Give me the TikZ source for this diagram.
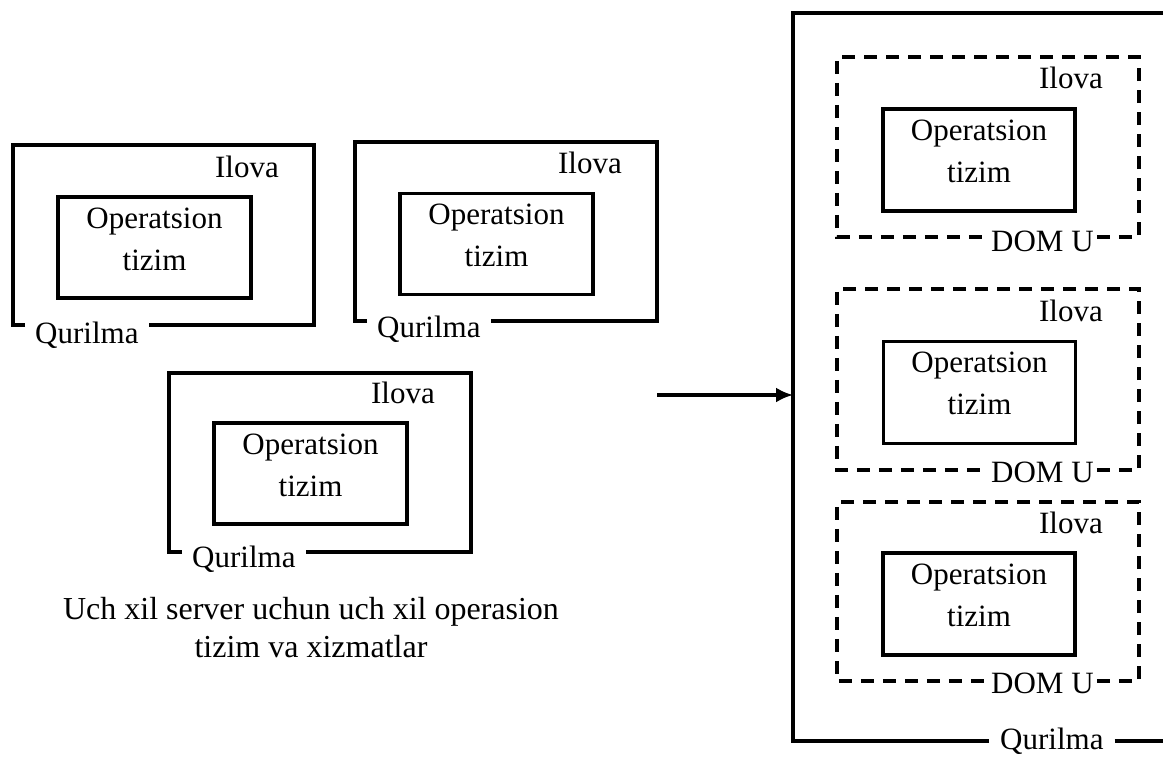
\documentclass[tikz,border=0pt]{standalone}
\usepackage{fontspec}
\setmainfont{Liberation Serif}
\usetikzlibrary{arrows.meta,positioning}

\tikzset{
  frame/.style={line width=3.2pt, line join=miter},
  domframe/.style={frame, dash pattern=on 13pt off 9pt},
  osbox/.style={draw, line width=3.2pt, minimum width=193pt, minimum height=101pt, inner sep=0pt},
  lbl/.style={font=\fontsize{31}{42}\selectfont, inner sep=0pt},
  gaplbl/.style={lbl, inner xsep=10pt},
  domlbl/.style={lbl, inner xsep=3pt}
}

\begin{document}
\begin{tikzpicture}[x=1pt, y=-1pt]
  \useasboundingbox (0,0) rectangle (1163,756);
  \clip (0,0) rectangle (1163,756);

  % three separate servers
  \coordinate (s1nw) at (13,145);
  \coordinate (s1se) at (314,325);
  \node[gaplbl, anchor=base west] (q1) at (25,343) {Qurilma};
  \draw[frame] (q1.west |- s1se) -| (s1nw) -| (s1se) -- (q1.east |- s1se);
  \node[lbl, anchor=base east] (i1) at (279,177) {Ilova};
  \node[osbox] (os1) at (154.5,247.5) {};
  \node[lbl, align=center, below=12pt of os1.north] (t1) {Operatsion\\tizim};

  \coordinate (s2nw) at (355,142);
  \coordinate (s2se) at (657,321);
  \node[gaplbl, anchor=base west] (q2) at (367,337) {Qurilma};
  \draw[frame] (q2.west |- s2se) -| (s2nw) -| (s2se) -- (q2.east |- s2se);
  \node[lbl, anchor=base east] (i2) at (622,173) {Ilova};
  \node[osbox] (os2) at (496.5,244) {};
  \node[lbl, align=center, below=12pt of os2.north] (t2) {Operatsion\\tizim};

  \coordinate (s3nw) at (169,373);
  \coordinate (s3se) at (471,552);
  \node[gaplbl, anchor=base west] (q3) at (182,567) {Qurilma};
  \draw[frame] (q3.west |- s3se) -| (s3nw) -| (s3se) -- (q3.east |- s3se);
  \node[lbl, anchor=base east] (i3) at (435,403) {Ilova};
  \node[osbox] (os3) at (310.5,473.5) {};
  \node[lbl, align=center, below=12pt of os3.north] (t3) {Operatsion\\tizim};

  \node[lbl, font=\fontsize{32}{38}\selectfont, align=center, anchor=north] (cap) at (311,597)
    {Uch xil server uchun uch xil operasion\\tizim va xizmatlar};

  % one device with DOM U guests
  \coordinate (bnw) at (793,13);
  \coordinate (bse) at (1190,741);
  \node[lbl, inner xsep=11pt, anchor=base west] (q4) at (989,749) {Qurilma};
  \draw[frame] (q4.west |- bse) -| (bnw) -- (bnw -| bse);
  \draw[frame] (q4.east |- bse) -- (bse);

  \coordinate (arrstart) at (657,395);
  \draw[frame, -{Latex[length=17pt, width=15pt]}] (arrstart) -- (arrstart -| bnw);

  \coordinate (d1nw) at (837,57);
  \coordinate (d1se) at (1139,237);
  \node[domlbl, anchor=base west] (u1) at (988,251) {DOM U};
  \draw[domframe] (u1.east |- d1se) -| (d1se |- d1nw) -| (d1nw |- d1se) -- (u1.west |- d1se);
  \node[lbl, anchor=base east] (i4) at (1103,88) {Ilova};
  \node[osbox, minimum width=192pt, minimum height=102pt] (os4) at (979,160) {};
  \node[lbl, align=center, below=12pt of os4.north] (t4) {Operatsion\\tizim};

  \coordinate (d2nw) at (837,289);
  \coordinate (d2se) at (1139,470);
  \node[domlbl, anchor=base west] (u2) at (988,482) {DOM U};
  \draw[domframe] (u2.east |- d2se) -| (d2se |- d2nw) -| (d2nw |- d2se) -- (u2.west |- d2se);
  \node[lbl, anchor=base east] (i5) at (1103,321) {Ilova};
  \node[osbox, minimum width=192pt, minimum height=102pt] (os5) at (979.5,392.5) {};
  \node[lbl, align=center, below=12pt of os5.north] (t5) {Operatsion\\tizim};

  \coordinate (d3nw) at (837,502);
  \coordinate (d3se) at (1139,681);
  \node[domlbl, anchor=base west] (u3) at (988,693) {DOM U};
  \draw[domframe] (u3.east |- d3se) -| (d3se |- d3nw) -| (d3nw |- d3se) -- (u3.west |- d3se);
  \node[lbl, anchor=base east] (i6) at (1103,533) {Ilova};
  \node[osbox, minimum width=192pt, minimum height=102pt] (os6) at (979,604) {};
  \node[lbl, align=center, below=12pt of os6.north] (t6) {Operatsion\\tizim};
\end{tikzpicture}
\end{document}
